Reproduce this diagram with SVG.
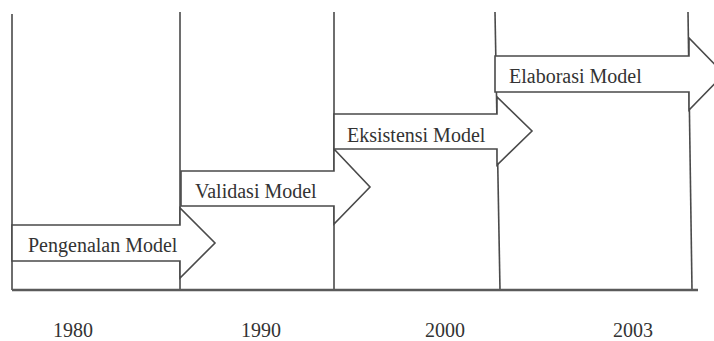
<svg xmlns="http://www.w3.org/2000/svg" width="714" height="341" viewBox="0 0 714 341">
<style>
.v{stroke:#4a4a4a;stroke-width:1.6;fill:none}
.base{stroke:#5a5a5a;stroke-width:2.6;fill:none}
.arr{fill:#fff;stroke:#4a4a4a;stroke-width:1.6;stroke-linejoin:miter}
.lbl{font-family:"Liberation Serif","Times New Roman",serif;font-size:20px;fill:#333}
.yr{font-family:"Liberation Serif","Times New Roman",serif;font-size:20px;fill:#333;text-anchor:middle}
</style>
<rect width="714" height="341" fill="#fff"/>
<g id="connectors">
<line class="v" x1="12" y1="14" x2="12" y2="290"/>
<line class="v" x1="180" y1="12" x2="180" y2="290"/>
<line class="v" x1="334" y1="12" x2="334" y2="290"/>
<line class="v" x1="495" y1="12" x2="500" y2="290"/>
<line class="v" x1="688" y1="12" x2="692" y2="290"/>
<line class="base" x1="12" y1="290" x2="698" y2="290"/>
</g>
<g id="pengenalan">
<polygon class="arr" points="12,225 180,225 180,208 215,243 180,278 180,261 12,261"/>
<text class="lbl" x="28" y="252">Pengenalan Model</text>
</g>
<g id="validasi">
<polygon class="arr" points="181,171 334,171 334,149 370,187 334,224 334,206 181,206"/>
<text class="lbl" x="195" y="198">Validasi Model</text>
</g>
<g id="eksistensi">
<polygon class="arr" points="334,114 497,114 497,97 532,131 497,165 497,149 334,149"/>
<text class="lbl" x="347" y="142">Eksistensi Model</text>
</g>
<g id="elaborasi">
<polygon class="arr" points="495,56 689,56 689,38 724,74 689,110 689,92 495,92"/>
<text class="lbl" x="509" y="83">Elaborasi Model</text>
</g>
<g id="years">
<text class="yr" x="73" y="337">1980</text>
<text class="yr" x="261" y="337">1990</text>
<text class="yr" x="445" y="337">2000</text>
<text class="yr" x="633" y="337">2003</text>
</g>
</svg>
